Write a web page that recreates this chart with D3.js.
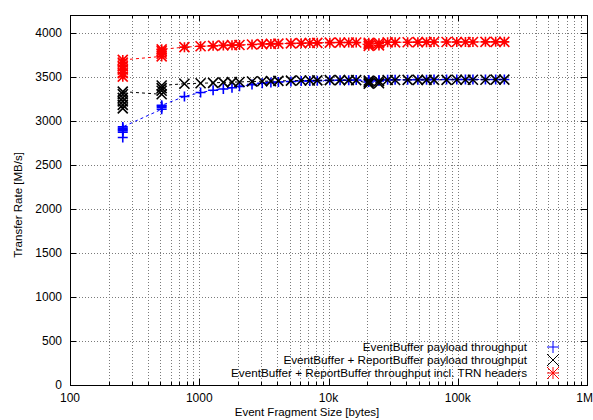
<!DOCTYPE html>
<html>
<head>
<meta charset="utf-8">
<script src="https://cdn.jsdelivr.net/npm/d3@7"></script>
<style>
body { margin:0; background:#fff; }
text { font-family: "Liberation Sans", Arial, Helvetica, sans-serif; font-size:12px; fill:#000; }
</style>
</head>
<body>
<svg width="593" height="420"></svg>
<script>
// fragment sizes (bytes) - repeated entries are repeated measurements
var fragSize = [256,256,256,256,256,256, 512,512,512,512,
	768,1024,1280,1536,1792,2048,2560,3072,3584,4096,5120,6144,7168,8192,10240,12288,14336,16384,
	20480,20480,20480, 24576,24576,
	28672,32768,40960,49152,57344,65536,81920,98304,114688,131072,163840,196608,229376];

var ebPayload = [2810,2870,2890,2900,2915,2930, 3130,3150,3165,3175,
	3275,3320,3345,3360,3375,3390,3410,3425,3435,3440,3445,3450,3452,3455,3458,3460,3460,3462,
	3440,3455,3462, 3450,3463,
	3464,3465,3465,3466,3466,3467,3467,3467,3468,3468,3468,3468,3468];

var ebRbPayload = [3140,3180,3220,3260,3300,3330, 3300,3340,3370,3400,
	3420,3425,3430,3435,3438,3440,3445,3448,3450,3452,3455,3456,3457,3458,3460,3460,3461,3461,
	3420,3435,3455, 3425,3450,
	3462,3462,3463,3463,3464,3464,3464,3465,3465,3465,3465,3466,3466];

var ebRbTrn = [3500,3540,3580,3620,3660,3690, 3730,3760,3790,3810,
	3835,3845,3850,3855,3858,3860,3865,3870,3872,3875,3878,3880,3882,3884,3886,3887,3888,3888,
	3850,3870,3885, 3855,3880,
	3890,3890,3891,3892,3892,3893,3893,3894,3894,3894,3895,3895,3895];

var seriesNames = ["EventBuffer payload throughput",
	"EventBuffer + ReportBuffer payload throughput",
	"EventBuffer + ReportBuffer throughput incl. TRN headers"];
var seriesColors = ["#0000ff", "#000000", "#ff0000"];
var seriesMarks = ["plus", "cross", "star"];

var xTickValues = [100, 1000, 10000, 100000, 1000000];
var xTickLabels = ["100", "1000", "10k", "100k", "1M"];
var yTickValues = [0,500,1000,1500,2000,2500,3000,3500,4000];

svg = d3.select("svg");
left = 70; right = 587; top_ = 15; bottom = 385;

x = d3.scaleLog().domain([100, 1000000]).range([left, right]);
y = d3.scaleLinear().domain([0, 4200]).range([bottom, top_]);

// minor ticks 200..900 of each decade
minorX = [];
[100,1000,10000,100000].forEach(function(d){
	for (var k = 2; k <= 9; k++) minorX.push(d*k);
});

grid = svg.append("g").attr("class","grid")
	.attr("stroke","#7a7a7a").attr("stroke-width",1).attr("stroke-dasharray","1,2");
grid.selectAll(".vx").data(xTickValues.slice(1,-1).concat(minorX)).enter().append("line")
	.attr("x1", function(d){return Math.round(x(d))+0.5})
	.attr("x2", function(d){return Math.round(x(d))+0.5})
	.attr("y1", top_).attr("y2", bottom);
grid.selectAll(".hy").data(yTickValues.slice(1)).enter().append("line")
	.attr("y1", function(d){return Math.round(y(d))+0.5})
	.attr("y2", function(d){return Math.round(y(d))+0.5})
	.attr("x1", left).attr("x2", right);

// tick marks (inward, mirrored)
ticks = svg.append("g").attr("stroke","#000").attr("stroke-width",1);
xTickValues.forEach(function(d){
	var px = Math.round(x(d))+0.5;
	ticks.append("line").attr("x1",px).attr("x2",px).attr("y1",bottom).attr("y2",bottom-6);
	ticks.append("line").attr("x1",px).attr("x2",px).attr("y1",top_).attr("y2",top_+6);
});
minorX.forEach(function(d){
	var px = Math.round(x(d))+0.5;
	ticks.append("line").attr("x1",px).attr("x2",px).attr("y1",bottom).attr("y2",bottom-3);
	ticks.append("line").attr("x1",px).attr("x2",px).attr("y1",top_).attr("y2",top_+3);
});
yTickValues.forEach(function(d){
	var py = Math.round(y(d))+0.5;
	ticks.append("line").attr("x1",left).attr("x2",left+6).attr("y1",py).attr("y2",py);
	ticks.append("line").attr("x1",right).attr("x2",right-6).attr("y1",py).attr("y2",py);
});

// tick labels
svg.append("g").selectAll("text").data(xTickValues).enter().append("text")
	.attr("x", function(d,i){return i == xTickValues.length-1 ? 593 : x(d)})
	.attr("y", 402)
	.attr("text-anchor", function(d,i){return i == xTickValues.length-1 ? "end" : "middle"})
	.text(function(d,i){return xTickLabels[i]});
svg.append("g").selectAll("text").data(yTickValues).enter().append("text")
	.attr("x", 62)
	.attr("y", function(d){return y(d)})
	.attr("dy","0.35em")
	.attr("text-anchor","end")
	.text(function(d){return d});

svg.append("text").attr("x", 307).attr("y", 416).attr("text-anchor","middle")
	.style("font-size","11.5px")
	.text("Event Fragment Size [bytes]");
svg.append("text").attr("transform","translate(22,205) rotate(-90)")
	.attr("text-anchor","middle")
	.style("font-size","11.5px")
	.text("Transfer Rate [MB/s]");

function drawMark(g, kind, color, r, sw) {
	var p = "";
	if (kind == "plus" || kind == "star") p += "M"+(-r)+",0H"+r+"M0,"+(-r)+"V"+r;
	if (kind == "cross" || kind == "star") p += "M"+(-r)+","+(-r)+"L"+r+","+r+"M"+(-r)+","+r+"L"+r+","+(-r);
	g.append("path").attr("d", p).attr("stroke", color).attr("stroke-width", sw).attr("fill","none");
}

var allSeries = [ebPayload, ebRbPayload, ebRbTrn];
line = d3.line()
	.x(function(d,i){return x(fragSize[i])})
	.y(function(d){return y(d)});

plot = svg.append("g");
allSeries.forEach(function(vals, s){
	plot.append("path")
		.attr("d", line(vals))
		.attr("fill","none")
		.attr("stroke", seriesColors[s])
		.attr("stroke-width",1)
		.attr("stroke-dasharray","3,3");
	vals.forEach(function(v, i){
		var g = plot.append("g").attr("transform","translate("+[x(fragSize[i]), y(v)]+")");
		drawMark(g, seriesMarks[s], seriesColors[s], 5, 1.6);
	});
});

// border
svg.append("rect").attr("x",left+0.5).attr("y",top_+0.5)
	.attr("width",right-left).attr("height",bottom-top_)
	.attr("fill","none").attr("stroke","#000").attr("stroke-width",1);

// legend
legend = svg.append("g");
seriesNames.forEach(function(name, s){
	var ly = 347 + s*13;
	legend.append("text").attr("x",527).attr("y",ly).attr("dy","0.35em")
		.attr("text-anchor","end").style("font-size","11.7px").text(name);
	var g = legend.append("g").attr("transform","translate("+[553, ly]+")");
	drawMark(g, seriesMarks[s], seriesColors[s], 6, 1);
});
</script>
</body>
</html>
